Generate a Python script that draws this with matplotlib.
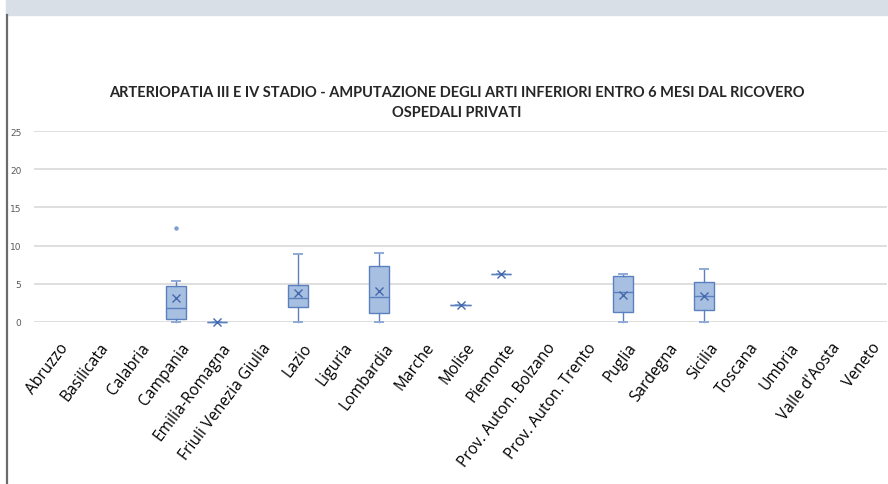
import matplotlib.pyplot as plt
from matplotlib.patches import Rectangle
from matplotlib.lines import Line2D
from matplotlib.transforms import ScaledTranslation

# regions on the category axis (last one has no data)
regions = ['Abruzzo', 'Basilicata', 'Calabria', 'Campania', 'Emilia-Romagna',
           'Friuli Venezia Giulia', 'Lazio', 'Liguria', 'Lombardia', 'Marche',
           'Molise', 'Piemonte', 'Prov. Auton. Bolzano', 'Prov. Auton. Trento',
           'Puglia', 'Sardegna', 'Sicilia', 'Toscana', 'Umbria', "Valle d'Aosta",
           'Veneto']

# box plot statistics per region (None = no private hospitals)
whislo = [None, None, None, 0.0, 0.0, None, 0.0, None, 0.0, None, 2.22, 6.24,
          None, None, 0.0, None, 0.0, None, None, None, None]
q1 = [None, None, None, 0.35, 0.0, None, 2.0, None, 1.18, None, 2.22, 6.24,
      None, None, 1.27, None, 1.61, None, None, None, None]
med = [None, None, None, 1.79, 0.0, None, 3.14, None, 3.23, None, 2.22, 6.24,
       None, None, 3.88, None, 3.36, None, None, None, None]
q3 = [None, None, None, 4.67, 0.0, None, 4.88, None, 7.33, None, 2.22, 6.24,
      None, None, 6.02, None, 5.19, None, None, None, None]
whishi = [None, None, None, 5.4, 0.0, None, 8.9, None, 9.0, None, 2.22, 6.24,
          None, None, 6.24, None, 6.94, None, None, None, None]
mean = [None, None, None, 3.14, 0.0, None, 3.8, None, 4.02, None, 2.22, 6.24,
        None, None, 3.49, None, 3.44, None, None, None, None]
outliers = {3: [12.35]}

title = ('ARTERIOPATIA III E IV STADIO - AMPUTAZIONE DEGLI ARTI INFERIORI ENTRO 6 MESI DAL RICOVERO\n'
         'OSPEDALI PRIVATI')

stats, positions = [], []
for i in range(len(regions)):
    if med[i] is None:
        continue
    stats.append(dict(med=med[i], q1=q1[i], q3=q3[i], whislo=whislo[i],
                      whishi=whishi[i], mean=mean[i], fliers=outliers.get(i, [])))
    positions.append(i)

edge = '#5b80bf'
fig = plt.figure(figsize=(8.88, 4.85), dpi=100)
ax = fig.add_axes([34 / 888, 162 / 485, 853 / 888, 191 / 485])

ax.bxp(stats, positions=positions, widths=0.5, showmeans=True, patch_artist=True,
       boxprops=dict(facecolor='#a7bfe1', edgecolor=edge, linewidth=1.0),
       medianprops=dict(color=edge, linewidth=1.0),
       whiskerprops=dict(color=edge, linewidth=1.0),
       capprops=dict(color='#8fa9d6', linewidth=1.4),
       capwidths=0.2,
       meanprops=dict(marker='x', markeredgecolor='#4569ad', markersize=6, markeredgewidth=1.0),
       flierprops=dict(marker='o', markerfacecolor='#7f9dd0', markeredgecolor='#7f9dd0', markersize=2.2),
       zorder=3)
for art in ax.get_children():
    art.set_clip_on(False)

ax.set_xlim(-0.5, len(regions) - 0.5)
ax.set_ylim(0, 25)
ax.set_yticks(range(0, 26, 5))
ax.grid(axis='y', color='#d9d9d9', linewidth=1.2, zorder=0)
ax.set_axisbelow(True)
for s in ax.spines.values():
    s.set_visible(False)

ax.set_xticks(range(len(regions)))
ax.set_xticklabels(regions, rotation=53, ha='right', va='center',
                   rotation_mode='anchor', fontsize=11.2, family='Open Sans')
ax.tick_params(axis='x', length=0, pad=16)
ax.tick_params(axis='y', length=0, pad=9, labelsize=6.5, labelcolor='#595959')
shift = ScaledTranslation(11 / 100, 0, fig.dpi_scale_trans)
for lab in ax.get_xticklabels():
    lab.set_transform(lab.get_transform() + shift)

fig.text(457 / 888, 1 - 103 / 485, title, ha='center', va='center', fontsize=10.5,
         fontweight='bold', family='Lato', color='#262626', linespacing=1.55)

# header band and left border
fig.add_artist(Rectangle((6 / 888, 1 - 16 / 485), 882 / 888, 16 / 485,
                         transform=fig.transFigure, color='#d9dfe7', zorder=0))
fig.add_artist(Line2D([6.5 / 888, 6.5 / 888], [0, 1 - 16 / 485],
                      transform=fig.transFigure, color='#6b6b6b', linewidth=1.6))

fig.savefig('out.png', dpi=100)
